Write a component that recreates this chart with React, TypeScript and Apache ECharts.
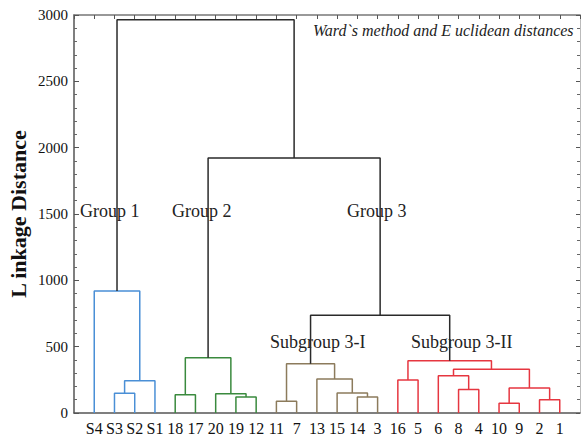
import React, { useEffect, useRef } from "react";
import * as echarts from "echarts";

// Leaves in dendrogram order (left to right)
const leafLabels = ["S4", "S3", "S2", "S1", "18", "17", "20", "19", "12", "11", "7", "13", "15", "14", "3", "16", "5", "6", "8", "4", "10", "9", "2", "1"];

// Merges: merge i gets id "m" + (i + 1)
const mergeLeft = ["S3", "m1", "S4", "18", "19", "20", "m4", "11", "14", "15", "13", "m8", "16", "8", "6", "10", "2", "m16", "m15", "m13", "m12", "m7", "m3"];
const mergeRight = ["S2", "S1", "m2", "17", "12", "m5", "m6", "7", "3", "m9", "m10", "m11", "5", "4", "m14", "9", "1", "m17", "m18", "m19", "m20", "m21", "m22"];
const mergeHeights = [148, 244, 920, 138, 121, 146, 417, 88, 121, 151, 256, 372, 249, 178, 281, 73, 100, 188, 329, 394, 736, 1922, 2965];
const mergeGroup = ["g1", "g1", "g1", "g2", "g2", "g2", "g2", "g3a", "g3a", "g3a", "g3a", "g3a", "g3b", "g3b", "g3b", "g3b", "g3b", "g3b", "g3b", "g3b", "top", "top", "top"];

const groupColors: Record<string, string> = {
  g1: "#4a8fd6",
  g2: "#3a8a3e",
  g3a: "#8c7b5c",
  g3b: "#e63640",
  top: "#2a2a2a",
};

const yTicks = [0, 500, 1000, 1500, 2000, 2500, 3000];

const SERIF = "Liberation Serif";

export default function App() {
  const ref = useRef<HTMLDivElement>(null);

  useEffect(() => {
    if (!ref.current) return;
    const chart = echarts.init(ref.current, undefined, { renderer: "svg" });

    const pos: Record<string, [number, number]> = {};
    leafLabels.forEach((l, i) => {
      pos[l] = [i + 1, 0];
    });
    const series: any[] = [];
    mergeHeights.forEach((h, i) => {
      const a = pos[mergeLeft[i]];
      const b = pos[mergeRight[i]];
      pos["m" + (i + 1)] = [(a[0] + b[0]) / 2, h];
      series.push({
        type: "line",
        data: [
          [a[0], a[1]],
          [a[0], h],
          [b[0], h],
          [b[0], b[1]],
        ],
        showSymbol: false,
        symbol: "none",
        lineStyle: { color: groupColors[mergeGroup[i]], width: 1.5 },
        silent: true,
        z: 3,
      });
    });

    const axisLineStyle = { color: "#555", width: 1.5 };

    chart.setOption({
      animation: false,
      backgroundColor: "#ffffff",
      textStyle: { fontFamily: SERIF },
      grid: { left: 74, top: 15, width: 508, height: 398, containLabel: false },
      xAxis: [
        {
          type: "value",
          min: 0,
          max: 25,
          interval: 1,
          position: "bottom",
          axisLine: { show: true, onZero: false, lineStyle: axisLineStyle },
          axisTick: { show: false },
          splitLine: { show: false },
          axisLabel: {
            formatter: (v: number) => leafLabels[v - 1] ?? "",
            fontFamily: SERIF,
            fontSize: 16,
            color: "#111",
            margin: 7,
            showMinLabel: true,
            showMaxLabel: true,
          },
        },
        {
          type: "value",
          min: 0,
          max: 25,
          interval: 1,
          position: "top",
          axisLine: { show: true, onZero: false, lineStyle: { color: "#777", width: 1.5 } },
          axisTick: { show: true, inside: true, length: 4, lineStyle: { color: "#555" } },
          splitLine: { show: false },
          axisLabel: { show: false },
        },
      ],
      yAxis: [
        {
          type: "value",
          min: yTicks[0],
          max: yTicks[yTicks.length - 1],
          interval: 500,
          position: "left",
          axisLine: { show: true, onZero: false, lineStyle: axisLineStyle },
          axisTick: { show: true, inside: true, length: 5, lineStyle: { color: "#555" } },
          minorTick: { show: true, splitNumber: 5, length: 3, lineStyle: { color: "#666" } },
          splitLine: { show: false },
          axisLabel: {
            formatter: (v: number) => String(v),
            fontFamily: SERIF,
            fontSize: 15,
            color: "#111",
            margin: 6,
          },
        },
        {
          type: "value",
          min: yTicks[0],
          max: yTicks[yTicks.length - 1],
          interval: 500,
          position: "right",
          axisLine: { show: true, onZero: false, lineStyle: { color: "#bbb", width: 1 } },
          axisTick: { show: true, inside: true, length: 4, lineStyle: { color: "#555" } },
          minorTick: { show: true, splitNumber: 5, length: 3, lineStyle: { color: "#666" } },
          splitLine: { show: false },
          axisLabel: { show: false },
        },
      ],
      series,
      graphic: [
        {
          type: "text",
          x: 18,
          y: 214,
          rotation: Math.PI / 2,
          style: {
            text: "L inkage Distance",
            fontFamily: SERIF,
            fontWeight: "bold",
            fontSize: 22,
            fill: "#111",
            align: "center",
            verticalAlign: "middle",
          },
        },
        {
          type: "text",
          x: 313,
          y: 30,
          style: {
            text: "Ward`s method and E uclidean distances",
            fontFamily: SERIF,
            fontStyle: "italic",
            fontSize: 16,
            fill: "#222",
            align: "left",
            verticalAlign: "middle",
          },
        },
        { type: "text", x: 80, y: 211, style: { text: "Group 1", fontFamily: SERIF, fontSize: 18, fill: "#222", verticalAlign: "middle" } },
        { type: "text", x: 172, y: 211, style: { text: "Group 2", fontFamily: SERIF, fontSize: 18, fill: "#222", verticalAlign: "middle" } },
        { type: "text", x: 347, y: 211, style: { text: "Group 3", fontFamily: SERIF, fontSize: 18, fill: "#222", verticalAlign: "middle" } },
        { type: "text", x: 270, y: 342, style: { text: "Subgroup 3-I", fontFamily: SERIF, fontSize: 18, fill: "#222", verticalAlign: "middle" } },
        { type: "text", x: 411, y: 342, style: { text: "Subgroup 3-II", fontFamily: SERIF, fontSize: 18, fill: "#222", verticalAlign: "middle" } },
      ],
    });

    return () => chart.dispose();
  }, []);

  return (
    <div
      ref={ref}
      style={{ position: "absolute", left: 0, top: 0, width: 583, height: 441 }}
    />
  );
}
